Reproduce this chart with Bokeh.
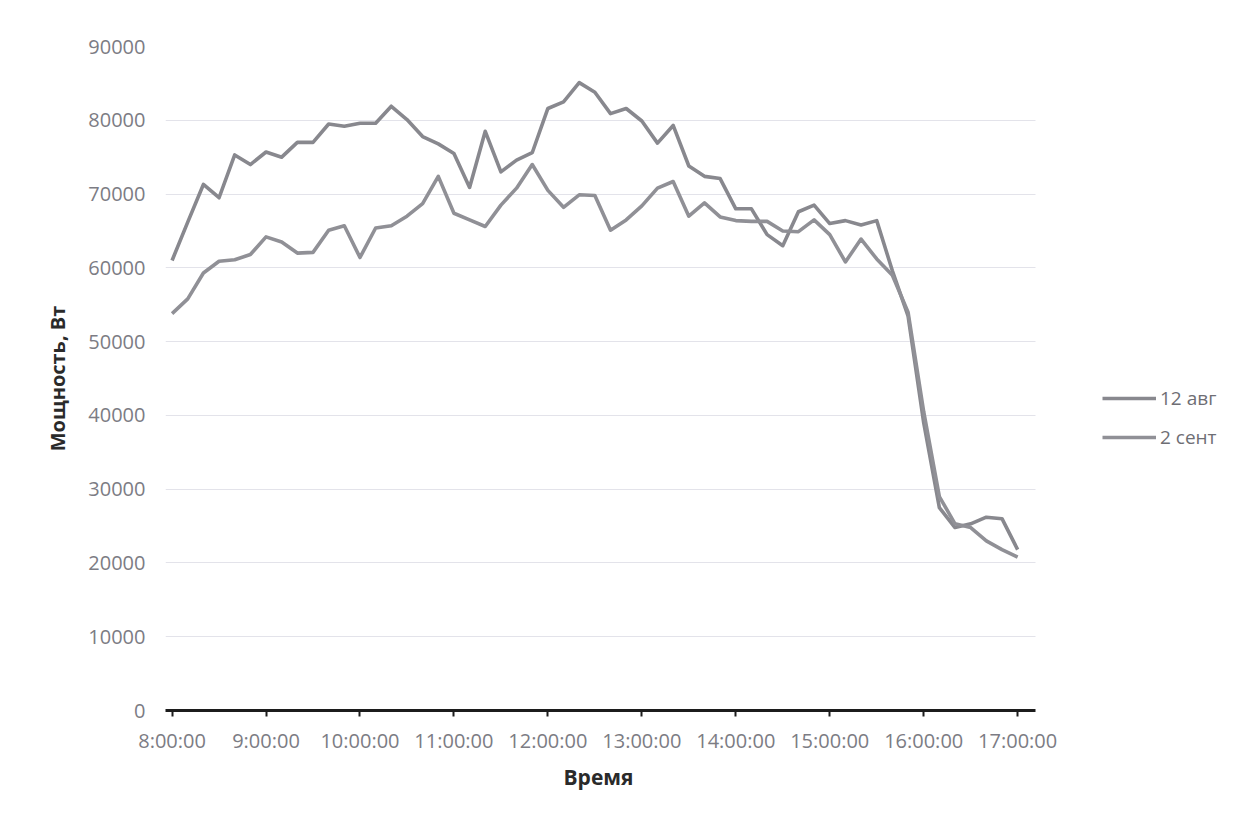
from bokeh.plotting import figure
from bokeh.models import (Legend, LegendItem, FixedTicker, Range1d,
                          NumeralTickFormatter, Title, BoxAnnotation)
from bokeh.embed import file_html
from bokeh.resources import INLINE

times = ["8:00", "8:10", "8:20", "8:30", "8:40", "8:50",
         "9:00", "9:10", "9:20", "9:30", "9:40", "9:50",
         "10:00", "10:10", "10:20", "10:30", "10:40", "10:50",
         "11:00", "11:10", "11:20", "11:30", "11:40", "11:50",
         "12:00", "12:10", "12:20", "12:30", "12:40", "12:50",
         "13:00", "13:10", "13:20", "13:30", "13:40", "13:50",
         "14:00", "14:10", "14:20", "14:30", "14:40", "14:50",
         "15:00", "15:10", "15:20", "15:30", "15:40", "15:50",
         "16:00", "16:10", "16:20", "16:30", "16:40", "16:50",
         "17:00"]

aug12 = [61000, 66200, 71300, 69500, 75300, 74000,
         75700, 75000, 77000, 77000, 79500, 79200,
         79600, 79600, 81900, 80100, 77800, 76800,
         75500, 70900, 78500, 73000, 74600, 75600,
         81600, 82500, 85100, 83800, 80900, 81600,
         79900, 76900, 79300, 73800, 72400, 72100,
         68000, 68000, 64500, 63000, 67600, 68500,
         66000, 66400, 65800, 66400, 59600, 53500,
         39000, 27500, 24800, 25300, 26200, 26000,
         21800]

sep2 = [53800, 55800, 59300, 60900, 61100, 61800,
        64200, 63500, 62000, 62100, 65100, 65700,
        61400, 65400, 65700, 67000, 68700, 72400,
        67400, 66500, 65600, 68500, 70800, 74000,
        70500, 68200, 69900, 69800, 65100, 66500,
        68400, 70800, 71700, 67000, 68800, 66900,
        66400, 66300, 66300, 65000, 64900, 66500,
        64500, 60800, 63900, 61200, 59000, 54000,
        40500, 29000, 25300, 24800, 23000, 21800,
        20800]

hour_ticks = [8, 9, 10, 11, 12, 13, 14, 15, 16, 17]
hour_labels = ["8:00:00", "9:00:00", "10:00:00", "11:00:00", "12:00:00",
               "13:00:00", "14:00:00", "15:00:00", "16:00:00", "17:00:00"]
y_ticks = [0, 10000, 20000, 30000, 40000, 50000, 60000, 70000, 80000, 90000]
series_names = ["12 авг", "2 сент"]


def to_hours(t):
    h, m = t.split(":")
    return int(h) + int(m) / 60.0


x = [to_hours(t) for t in times]

# gridded plot area spans x_lo..x_hi; the frame extends further right
# so that the legend can sit to the right of the gridlines
x_lo, x_hi = 7.93, 17.19
px_per_hour = 870 / (x_hi - x_lo)
frame_w = 1245 - 165 - 5
x_end = x_lo + frame_w / px_per_hour

p = figure(width=1245, height=824, output_backend="svg", toolbar_location=None,
           x_range=Range1d(x_lo, x_end), y_range=Range1d(0, 90000),
           min_border_left=165, min_border_right=5, min_border_top=46,
           min_border_bottom=114)
p.outline_line_color = None
p.background_fill_color = "white"
p.border_fill_color = "white"

font = "Open Sans"
tick_color = "#7c7c84"

p.xgrid.grid_line_color = None
p.ygrid.grid_line_color = "#e3e3ea"
p.ygrid.grid_line_width = 1.2
try:
    p.ygrid.cross_bounds = (x_lo, x_hi)
except Exception:
    p.add_layout(BoxAnnotation(left=x_hi, fill_color="white", fill_alpha=1,
                               line_color=None, level="underlay"))

r1 = p.line(x, aug12, line_color="#88888e", line_width=3.6, line_join="round")
r2 = p.line(x, sep2, line_color="#909096", line_width=3.6, line_join="round")

p.xaxis.bounds = (x_lo, x_hi)
p.xaxis.ticker = FixedTicker(ticks=hour_ticks)
p.xaxis.major_label_overrides = {t: l for t, l in zip(hour_ticks, hour_labels)}
p.xaxis.axis_line_color = "#1c1c1c"
p.xaxis.axis_line_width = 3
p.xaxis.major_tick_line_color = "#1c1c1c"
p.xaxis.major_tick_line_width = 2
p.xaxis.major_tick_out = 6
p.xaxis.major_tick_in = 0
p.xaxis.minor_tick_line_color = None
p.xaxis.major_label_standoff = 10
p.xaxis.major_label_text_font = font
p.xaxis.major_label_text_font_size = "20px"
p.xaxis.major_label_text_color = tick_color

p.yaxis.ticker = FixedTicker(ticks=y_ticks)
p.yaxis.formatter = NumeralTickFormatter(format="0")
p.yaxis.axis_line_color = None
p.yaxis.major_tick_line_color = None
p.yaxis.minor_tick_line_color = None
p.yaxis.major_tick_out = 0
p.yaxis.major_label_standoff = 20
p.yaxis.major_label_text_font = font
p.yaxis.major_label_text_font_size = "20px"
p.yaxis.major_label_text_color = tick_color
p.yaxis.axis_label = "Мощность, Вт"
p.yaxis.axis_label_text_font = font
p.yaxis.axis_label_text_font_style = "bold"
p.yaxis.axis_label_text_font_size = "20px"
p.yaxis.axis_label_text_color = "#2a2a2a"
p.yaxis.axis_label_standoff = 14

# x-axis title, placed under the centre of the gridded area
xtitle = Title(text="Время", align="left", offset=398,
               text_font=font, text_font_style="bold", text_font_size="21px",
               text_color="#2a2a2a", standoff=8)
p.add_layout(xtitle, "below")

legend = Legend(items=[LegendItem(label=series_names[0], renderers=[r1]),
                       LegendItem(label=series_names[1], renderers=[r2])],
                location=(937, 260))
legend.border_line_color = None
legend.background_fill_alpha = 0
legend.glyph_width = 54
legend.glyph_height = 20
legend.spacing = 13
legend.padding = 10
legend.margin = 0
legend.label_standoff = 4
legend.label_text_font = font
legend.label_text_font_size = "19px"
legend.label_text_color = "#6e6e74"
p.add_layout(legend, "center")

open("out.html", "w").write(file_html(p, INLINE))
